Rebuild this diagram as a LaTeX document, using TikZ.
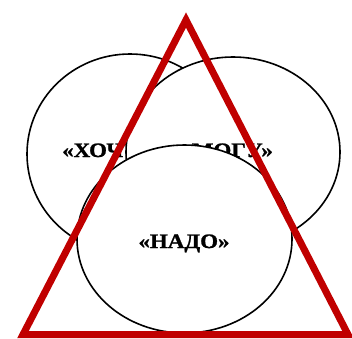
\documentclass[tikz,border=0pt]{standalone}
\usepackage{fontspec}
\setmainfont{Liberation Serif}
\newfontfamily\lblfont[FakeStretch=1.12, BoldFeatures={FakeBold=1.2}]{Liberation Serif}
\usetikzlibrary{shapes.geometric}
\definecolor{trired}{HTML}{C00000}
\tikzset{
  circ/.style={ellipse, draw=black, fill=white, line width=1.6pt, inner sep=0pt},
  lbl/.style={font=\lblfont\fontsize{20.5}{22}\selectfont\bfseries, inner sep=0pt},
  tri/.style={draw=trired, line width=7pt, miter limit=20}
}
\begin{document}
\begin{tikzpicture}[x=1pt,y=-1pt]
\useasboundingbox (0,0) rectangle (352,338);
\node[circ, minimum width=206pt, minimum height=200pt] (L) at (130,154) {};
\node[lbl, anchor=base west] (want) at (62,157) {«ХОЧУ»};
\node[circ, minimum width=214pt, minimum height=190pt] (R) at (233,152) {};
\node[lbl, anchor=base east] (can) at (273,157) {«МОГУ»};
\node[circ, minimum width=215pt, minimum height=188pt] (B) at (184.5,239) {};
\node[lbl, anchor=base] (must) at (184,248) {«НАДО»};
\coordinate (apex) at (186,20);
\coordinate (bl) at (23,334.5);
\coordinate (br) at (348,334.5);
\draw[tri] (apex) -- (bl) -- (br) -- cycle;
\end{tikzpicture}
\end{document}
